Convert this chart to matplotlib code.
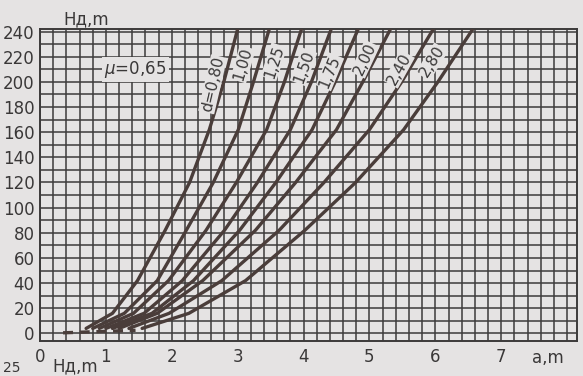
import matplotlib.pyplot as plt
from matplotlib.ticker import MultipleLocator, FixedLocator

# head H (m) levels where the curves were read, and flow values for each nozzle d
H_LEVELS = [4, 16, 42, 82, 120, 162, 200, 242]
Q_D080 = [0.70, 1.10, 1.48, 1.90, 2.27, 2.57, 2.79, 3.00]
Q_D100 = [0.80, 1.28, 1.78, 2.22, 2.63, 3.01, 3.24, 3.48]
Q_D125 = [0.90, 1.42, 1.95, 2.52, 2.98, 3.44, 3.71, 3.97]
Q_D150 = [1.00, 1.58, 2.16, 2.80, 3.30, 3.80, 4.12, 4.42]
Q_D175 = [1.10, 1.70, 2.33, 3.03, 3.58, 4.13, 4.48, 4.83]
Q_D200 = [1.20, 1.78, 2.47, 3.27, 3.88, 4.50, 4.90, 5.32]
Q_D240 = [1.35, 1.96, 2.76, 3.63, 4.31, 5.00, 5.49, 5.97]
Q_D280 = [1.55, 2.26, 3.12, 4.02, 4.79, 5.52, 6.04, 6.57]
CURVES = [Q_D080, Q_D100, Q_D125, Q_D150, Q_D175, Q_D200, Q_D240, Q_D280]

D_LABELS = ['d=0,80', '1,00', '1,25', '1,50', '1,75', '2,00', '2,40', '2,80']
LABEL_Q = [2.62, 3.08, 3.55, 4.00, 4.40, 4.93, 5.45, 5.95]
LABEL_H = [198, 214, 216, 212, 208, 218, 210, 216]
LABEL_ROT = [77, 74, 72, 70, 68, 65, 61, 58]

X_TICKS = [0, 1, 2, 3, 4, 5, 6, 7]
Y_TICKS = list(range(0, 241, 20))

# short dark dashes along the bottom edge
DASH_Q = [0.35, 1.45]
DASH_H = [0.5, 2.5]

BG = '#e5e3e3'
GRID = '#3c3a3a'
INK = '#4a3d3a'
TXT = '#3a3838'

plt.rcParams['font.family'] = ['DejaVu Sans']

fig = plt.figure(figsize=(5.83, 3.76), dpi=100, facecolor=BG)
ax = fig.add_axes([0.0686, 0.0931, 0.9211, 0.8298])
ax.set_facecolor(BG)
ax.set_xlim(0, 8.15)
ax.set_ylim(-6, 242)

ax.xaxis.set_minor_locator(MultipleLocator(0.2))
ax.yaxis.set_minor_locator(MultipleLocator(10))
ax.xaxis.set_major_locator(FixedLocator(X_TICKS))
ax.yaxis.set_major_locator(FixedLocator(Y_TICKS))
ax.grid(which='both', color=GRID, linewidth=1.1, zorder=0)
ax.set_axisbelow(True)
ax.tick_params(which='both', length=0, labelsize=12, colors=TXT)
ax.tick_params(axis='y', pad=4)
ax.tick_params(axis='x', pad=5)
ax.set_xticklabels([str(v) for v in X_TICKS])
ax.set_yticklabels([str(v) for v in Y_TICKS])
for sp in ax.spines.values():
    sp.set_color(GRID)
    sp.set_linewidth(1.4)

for q in CURVES:
    ax.plot(q, H_LEVELS, color=INK, linewidth=2.4, solid_capstyle='round',
            solid_joinstyle='round', zorder=3)
ax.plot(DASH_Q, DASH_H, color=INK, linewidth=2.4, linestyle=(0, (3, 2)),
        zorder=3, clip_on=False)

for lab, xq, yh, rot in zip(D_LABELS, LABEL_Q, LABEL_H, LABEL_ROT):
    ax.text(xq, yh, lab, rotation=rot, rotation_mode='anchor', ha='center',
            va='center', fontsize=11, color=TXT, zorder=4,
            bbox=dict(facecolor=BG, edgecolor='none', pad=0.6))

ax.text(1.45, 210, r'$\mu$=0,65', ha='center', va='center', fontsize=12,
        color=TXT, zorder=4,
        bbox=dict(facecolor=BG, edgecolor='none', pad=1.5))

fig.text(86 / 583, 1 - 19 / 376, 'Hд,m', ha='center', va='center',
         fontsize=12, color=TXT)
fig.text(548 / 583, 1 - 358 / 376, 'a,m', ha='center', va='center',
         fontsize=12, color=TXT)
fig.text(75 / 583, 1 - 366 / 376, 'Hд,m', ha='center', va='center',
         fontsize=12, color=TXT)
fig.text(12 / 583, 1 - 368 / 376, '25', ha='center', va='center',
         fontsize=10, color=TXT)

fig.savefig('out.png', dpi=100, facecolor=BG)
